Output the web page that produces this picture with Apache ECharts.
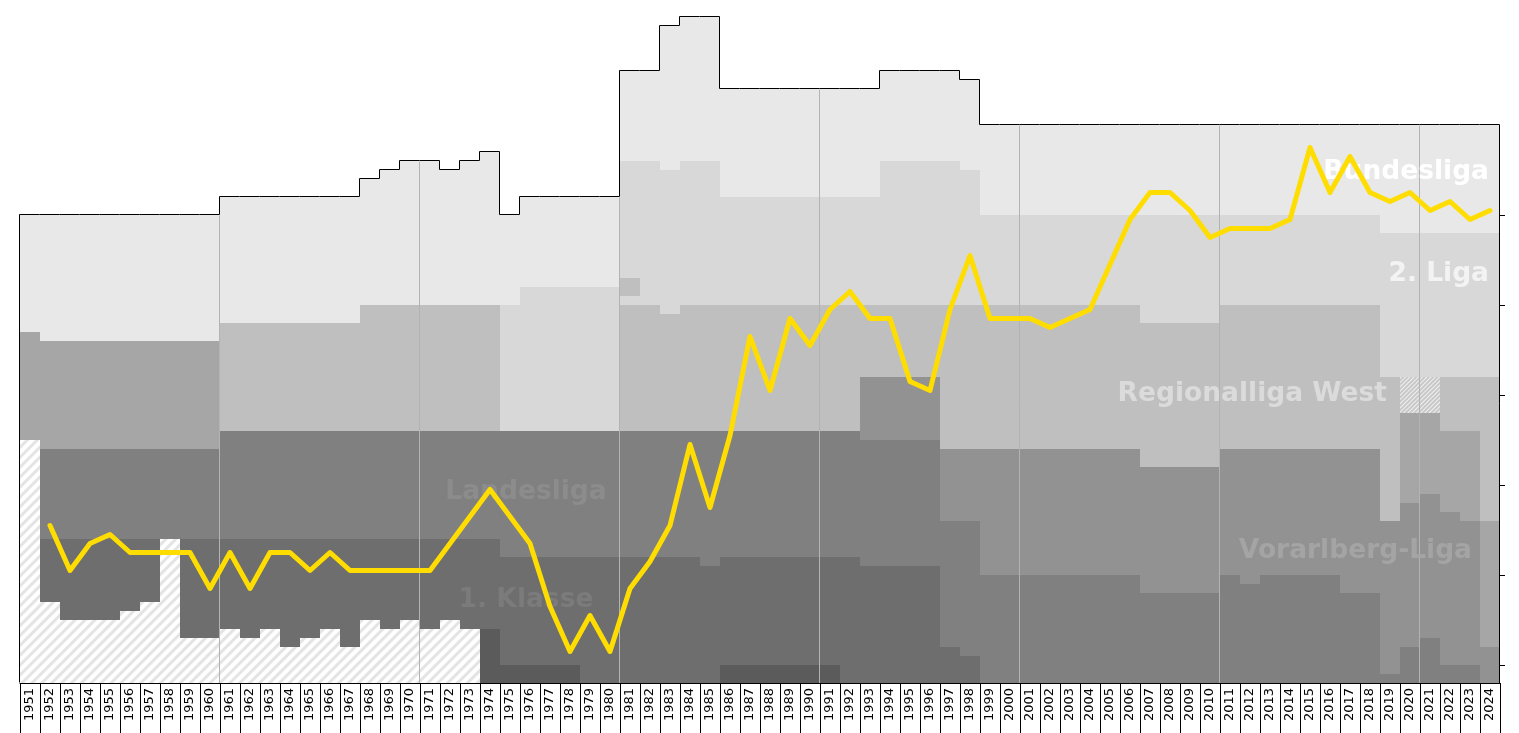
<!DOCTYPE html>
<html>
<head>
<meta charset="utf-8">
<title>Platzierungsgrafik</title>
<script src="https://cdn.jsdelivr.net/npm/echarts@6/dist/echarts.min.js"></script>
<style>
  html, body { margin: 0; padding: 0; background: #fff; }
  #chart { width: 1519px; height: 733px; }
</style>
</head>
<body>
<div id="chart"></div>
<script>
// seasons (end year)
const years = [
  '1951','1952','1953','1954','1955','1956','1957','1958','1959','1960',
  '1961','1962','1963','1964','1965','1966','1967','1968','1969','1970',
  '1971','1972','1973','1974','1975','1976','1977','1978','1979','1980',
  '1981','1982','1983','1984','1985','1986','1987','1988','1989','1990',
  '1991','1992','1993','1994','1995','1996','1997','1998','1999','2000',
  '2001','2002','2003','2004','2005','2006','2007','2008','2009','2010',
  '2011','2012','2013','2014','2015','2016','2017','2018','2019','2020',
  '2021','2022','2023','2024'
];

// number of teams per league level (tier1 = top)
const tier1 = [
  13,14,14,14,14,14,14,14,14,14,
  14,14,14,14,14,14,14,14,15,16,
  16,15,16,17,10,10,10,10,10,10,
  10,10,16,16,16,12,12,12,12,12,
  12,12,12,10,10,10,10,10,10,10,
  10,10,10,10,10,10,10,10,10,10,
  10,10,10,10,10,10,10,10,12,12,
  12,12,12,12
];
const tier2 = [
  0,0,0,0,0,0,0,0,0,0,
  0,0,0,0,0,0,0,0,0,0,
  0,0,0,0,14,16,16,16,16,16,
  13,16,16,16,16,12,12,12,12,12,
  12,12,12,16,16,16,16,15,10,10,
  10,10,10,10,10,10,12,12,12,12,
  10,10,10,10,10,10,10,10,16,16,
  16,16,16,16
];
// 1981: small block inside the second level
const tier3Block = [
  0,0,0,0,0,0,0,0,0,0, 0,0,0,0,0,0,0,0,0,0, 0,0,0,0,0,0,0,0,0,0,
  2,0,0,0,0,0,0,0,0,0, 0,0,0,0,0,0,0,0,0,0, 0,0,0,0,0,0,0,0,0,0,
  0,0,0,0,0,0,0,0,0,0, 0,0,0,0
];
const tier2Lower = [
  0,0,0,0,0,0,0,0,0,0, 0,0,0,0,0,0,0,0,0,0, 0,0,0,0,0,0,0,0,0,0,
  1,0,0,0,0,0,0,0,0,0, 0,0,0,0,0,0,0,0,0,0, 0,0,0,0,0,0,0,0,0,0,
  0,0,0,0,0,0,0,0,0,0, 0,0,0,0
];
const tier3 = [
  0,0,0,0,0,0,0,0,0,0,
  12,12,12,12,12,12,12,14,14,14,
  14,14,14,14,0,0,0,0,0,0,
  14,14,13,14,14,14,14,14,14,14,
  14,14,8,8,8,8,16,16,16,16,
  16,16,16,16,16,16,16,16,16,16,
  16,16,16,16,16,16,16,16,16,0,
  0,6,6,16
];
// season not played (hatched)
const tier3Cancelled = [
  0,0,0,0,0,0,0,0,0,0, 0,0,0,0,0,0,0,0,0,0, 0,0,0,0,0,0,0,0,0,0,
  0,0,0,0,0,0,0,0,0,0, 0,0,0,0,0,0,0,0,0,0, 0,0,0,0,0,0,0,0,0,0,
  0,0,0,0,0,0,0,0,0,4, 4,0,0,0
];
const tier4 = [
  12,12,12,12,12,12,12,12,12,12,
  0,0,0,0,0,0,0,0,0,0, 0,0,0,0,0,0,0,0,0,0,
  0,0,0,0,0,0,0,0,0,0, 0,0,0,0,0,0,0,0,0,0,
  0,0,0,0,0,0,0,0,0,0,
  0,0,0,0,0,0,0,0,0,10,
  9,9,10,14
];
const tier5 = [
  0,0,0,0,0,0,0,0,0,0, 0,0,0,0,0,0,0,0,0,0,
  0,0,0,0,0,0,0,0,0,0, 0,0,0,0,0,0,0,0,0,0,
  0,0,7,7,7,7,8,8,14,14,
  14,14,14,14,14,14,14,14,14,14,
  14,15,14,14,14,14,16,16,17,16,
  16,17,16,4
];
const tier6 = [
  0,10,10,10,10,10,10,10,10,10,
  12,12,12,12,12,12,12,12,12,12,
  12,12,12,12,14,14,14,14,14,14,
  14,14,14,14,15,14,14,14,14,14,
  14,14,14,14,14,14,14,15,12,12,
  12,12,12,12,12,12,10,10,10,10,
  12,11,12,12,12,12,10,10,1,4,
  5,2,2,0
];
const tier7 = [
  0,7,9,9,9,8,7,0,11,11,
  10,11,10,12,11,10,12,9,10,9,
  10,9,10,10,12,12,12,12,14,14,
  14,14,14,14,13,12,12,12,12,12,
  12,14,13,13,13,13,4,3,0,0,
  0,0,0,0,0,0,0,0,0,0,
  0,0,0,0,0,0,0,0,0,0,
  0,0,0,0
];
const tier8 = [
  0,0,0,0,0,0,0,0,0,0, 0,0,0,0,0,0,0,0,0,0,
  0,0,0,6,2,2,2,2,0,0,
  0,0,0,0,0,2,2,2,2,2,
  2,0,0,0,0,0,0,0,0,0,
  0,0,0,0,0,0,0,0,0,0, 0,0,0,0,0,0,0,0,0,0, 0,0,0,0
];
// lower leagues without data (hatched)
const unknownLower = [
  27,9,7,7,7,8,9,16,5,5,
  6,5,6,4,5,6,4,7,6,7,
  6,7,6,0,0,0,0,0,0,0,
  0,0,0,0,0,0,0,0,0,0, 0,0,0,0,0,0,0,0,0,0,
  0,0,0,0,0,0,0,0,0,0, 0,0,0,0,0,0,0,0,0,0, 0,0,0,0
];

// club's overall place, counted from the bottom of the stack
const position = [
  null,17.5,12.5,15.5,16.5,14.5,14.5,14.5,14.5,10.5,
  14.5,10.5,14.5,14.5,12.5,14.5,12.5,12.5,12.5,12.5,
  12.5,15.5,18.5,21.5,18.5,15.5,8.5,3.5,7.5,3.5,
  10.5,13.5,17.5,26.5,19.5,27.5,38.5,32.5,40.5,37.5,
  41.5,43.5,40.5,40.5,33.5,32.5,41.5,47.5,40.5,40.5,
  40.5,39.5,40.5,41.5,46.5,51.5,54.5,54.5,52.5,49.5,
  50.5,50.5,50.5,51.5,59.5,54.5,58.5,54.5,53.5,54.5,
  52.5,53.5,51.5,52.5
];

const leagueNames = ['Bundesliga', '2. Liga', 'Regionalliga West', 'Vorarlberg-Liga', 'Landesliga', '1. Klasse'];
const labelYears = ['2024', '2024', '2019', '2023', '1976', '1976'];
const labelPlaces = [56.8, 45.4, 32.1, 14.65, 21.25, 9.2];

const rightTicks = [2, 12, 22, 32, 42, 52];

// ---- styling ----
const hatchWhite = {
  color: '#ffffff',
  decal: { symbol: 'rect', symbolSize: 1, dashArrayX: [1, 0], dashArrayY: [3, 4],
           rotation: -Math.PI / 4, color: '#e4e4e4' }
};
const hatchGrey = {
  color: '#c8c8c8',
  decal: { symbol: 'rect', symbolSize: 1, dashArrayX: [1, 0], dashArrayY: [1, 2],
           rotation: -Math.PI / 4, color: '#f0f0f0' }
};

// stack order: bottom first
const layers = [
  { name: 'unknown', data: unknownLower, style: hatchWhite },
  { name: 'tier8', data: tier8, style: { color: '#5b5b5b' } },
  { name: 'tier7', data: tier7, style: { color: '#6e6e6e' } },
  { name: 'tier6', data: tier6, style: { color: '#808080' } },
  { name: 'tier5', data: tier5, style: { color: '#929292' } },
  { name: 'tier4', data: tier4, style: { color: '#a6a6a6' } },
  { name: 'tier3x', data: tier3Cancelled, style: hatchGrey },
  { name: 'tier3', data: tier3, style: { color: '#bfbfbf' } },
  { name: 'tier2b', data: tier2Lower, style: { color: '#d8d8d8' } },
  { name: 'tier3b', data: tier3Block, style: { color: '#bfbfbf' } },
  { name: 'tier2', data: tier2, style: { color: '#d8d8d8' } },
  { name: 'tier1', data: tier1, style: { color: '#e8e8e8' } }
];

const totals = years.map((y, i) => layers.reduce((s, l) => s + l.data[i], 0));
const outlineData = years.map((y, i) => [i, totals[i], i > 0 ? totals[i - 1] : 0]);

const labelStyles = [
  { fill: '#ffffff', align: 'right', dx: -1 },
  { fill: '#f3f3f3', align: 'right', dx: -1 },
  { fill: '#dbdbdb', align: 'right', dx: -3 },
  { fill: '#a4a4a4', align: 'right', dx: 2 },
  { fill: '#8c8c8c', align: 'center', dx: -4 },
  { fill: '#7b7b7b', align: 'center', dx: -4 }
];
const labelData = leagueNames.map((n, k) => [years.indexOf(labelYears[k]), labelPlaces[k], k]);

const chart = echarts.init(document.getElementById('chart'));

const series = layers.map(l => ({
  name: l.name,
  type: 'bar',
  stack: 'levels',
  barCategoryGap: '0%',
  silent: true,
  z: 2,
  itemStyle: l.style,
  data: l.data
}));

// black outline on top of the stack + grey decade lines
series.push({
  type: 'custom',
  z: 3,
  silent: true,
  clip: false,
  encode: { x: 0, y: 1 },
  data: outlineData,
  renderItem: function (params, api) {
    const i = api.value(0);
    const top = api.value(1);
    const prev = api.value(2);
    const w = api.size([1, 0])[0];
    const c = api.coord([i, top]);
    const left = Math.round(c[0] - w / 2) - 0.5;
    const right = Math.round(c[0] + w / 2) - 0.5;
    const yTop = Math.round(c[1]) - 0.5;
    const yPrev = Math.round(api.coord([i, prev])[1]) - 0.5;
    const yBase = Math.round(api.coord([i, 0])[1]);
    const children = [];
    if (i > 0 && Number(years[i]) % 10 === 1) {
      children.push({
        type: 'line',
        shape: { x1: left, y1: yBase, x2: left, y2: Math.max(yTop, yPrev) + 1 },
        style: { stroke: '#b3b3b3', lineWidth: 1 }
      });
    }
    const pts = [[left, yPrev], [left, yTop], [right, yTop]];
    if (i === years.length - 1) pts.push([right, yBase]);
    children.push({
      type: 'polyline',
      shape: { points: pts },
      style: { stroke: '#000', lineWidth: 1, fill: null }
    });
    return { type: 'group', children: children };
  }
});

// league names
series.push({
  type: 'custom',
  z: 4,
  silent: true,
  clip: false,
  encode: { x: 0, y: 1 },
  data: labelData,
  renderItem: function (params, api) {
    const k = api.value(2);
    const st = labelStyles[k];
    const p = api.coord([api.value(0), api.value(1)]);
    return {
      type: 'text',
      x: p[0] + st.dx,
      y: p[1],
      style: {
        text: leagueNames[k],
        fill: st.fill,
        font: 'bold 26.5px "DejaVu Sans", Verdana, sans-serif',
        align: st.align,
        verticalAlign: 'middle',
        textAlign: st.align,
        textVerticalAlign: 'middle'
      }
    };
  }
});

series.push({
  type: 'line',
  z: 6,
  silent: true,
  data: position,
  showSymbol: false,
  symbol: 'none',
  lineStyle: { color: '#ffdd00', width: 5, join: 'round', cap: 'round' },
  itemStyle: { color: '#ffdd00' }
});

chart.setOption({
  animation: false,
  backgroundColor: '#ffffff',
  grid: { left: 20, right: 19, top: 17, bottom: 50, containLabel: false },
  xAxis: {
    type: 'category',
    data: years,
    boundaryGap: true,
    axisLine: { show: true, lineStyle: { color: '#000', width: 1 } },
    axisTick: { show: true, interval: 0, length: 50, lineStyle: { color: '#000' } },
    axisLabel: {
      interval: 0, rotate: 90, margin: 5,
      fontSize: 13, color: '#000',
      fontFamily: '"DejaVu Sans", Verdana, sans-serif'
    },
    splitLine: { show: false }
  },
  yAxis: {
    type: 'value',
    position: 'right',
    min: 0,
    max: 74,
    axisLine: { show: false },
    axisTick: { show: true, customValues: rightTicks, length: 5, lineStyle: { color: '#000' } },
    axisLabel: { show: false },
    splitLine: { show: false }
  },
  series: series
});
</script>
</body>
</html>
